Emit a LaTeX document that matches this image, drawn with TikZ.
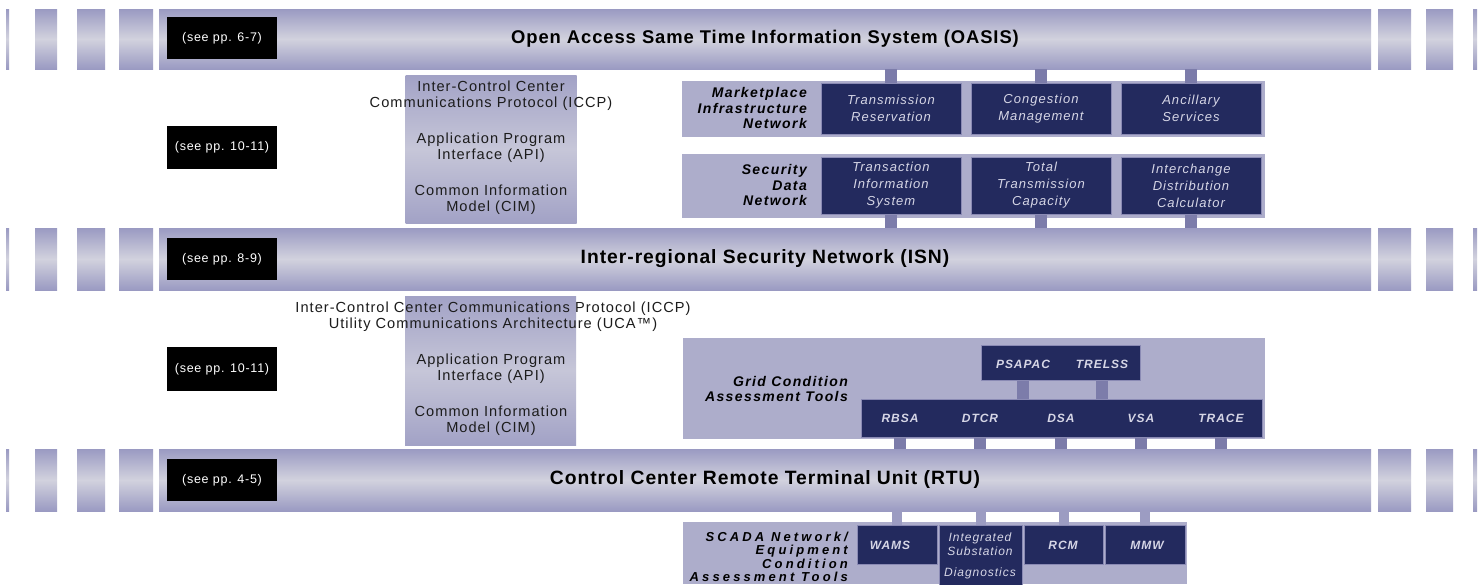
\documentclass[tikz,border=0pt]{standalone}
\usepackage{fontspec}
\setmainfont{Liberation Sans}
\newfontfamily\ttlf[LetterSpace=5]{Liberation Sans}
\newfontfamily\boxf[LetterSpace=8]{Liberation Sans}
\newfontfamily\lblf[LetterSpace=10]{Liberation Sans}
\newfontfamily\scadaf[LetterSpace=24]{Liberation Sans}
\newfontfamily\colf[LetterSpace=7]{Liberation Sans}
\newfontfamily\seef[LetterSpace=6]{Liberation Sans}
\newfontfamily\acrf[LetterSpace=8]{Liberation Sans}
\definecolor{barDark}{HTML}{9A9AC2}
\definecolor{barLight}{HTML}{D2D2DE}
\definecolor{colDark}{HTML}{A2A2C6}
\definecolor{colLight}{HTML}{C6C6D8}
\definecolor{contGrey}{HTML}{ADADCB}
\definecolor{navy}{HTML}{232A5E}
\definecolor{navyEdge}{HTML}{8A8AB4}
\definecolor{stubc}{HTML}{7C7CAA}
\definecolor{stubl}{HTML}{9C9CC2}
\definecolor{boxtext}{HTML}{D6D6E6}
\definecolor{txt}{HTML}{1C1C1C}
\begin{document}
\begin{tikzpicture}[x=1pt,y=-1pt,
  barseg/.style={top color=barDark, bottom color=barDark, middle color=barLight, draw=none},
  bar/.style={barseg, rectangle, inner sep=0, minimum width=1212, font=\ttlf\bfseries\fontsize{19.3}{21}\selectfont, text=black},
  see/.style={fill=black, text=white, minimum width=110, minimum height=42, inner sep=0, font=\seef\fontsize{12.5}{14}\selectfont},
  colbox/.style={top color=colDark, bottom color=colDark, middle color=colLight, inner sep=0, minimum width=171},
  coltext/.style={align=center, inner sep=0, text=txt, font=\colf\fontsize{14.6}{16}\selectfont},
  cont/.style={fill=contGrey, inner sep=0},
  navybox/.style={fill=navy, draw=navyEdge, line width=1, inner sep=0, text=boxtext, align=center, font=\boxf\itshape\fontsize{13}{17}\selectfont},
  acr/.style={inner sep=0, text=boxtext, font=\acrf\bfseries\itshape\fontsize{12}{14}\selectfont},
  lbl/.style={anchor=east, align=right, inner sep=0, text=black, font=\lblf\bfseries\itshape\fontsize{14}{15.5}\selectfont},
  stub/.style={draw=stubc, line width=12},
  stubs/.style={draw=stubl, line width=10}]
\useasboundingbox (0,0) rectangle (1483,584);
\fill[white] (0,0) rectangle (1483,584);

% side segments of the three bars
\foreach \ya/\yb in {9/69, 228/290, 449/511}{
  \foreach \xa/\xb in {6/9, 35/57, 77/105, 119/153, 1378/1411, 1426/1453, 1473/1477}{
    \path[barseg] (\xa,\ya) rectangle (\xb,\yb);
  }
}
% main bars
\node[bar, minimum height=60, font=\ttlf\bfseries\fontsize{18.4}{20}\selectfont] (oasis) at (765,39) {Open Access Same Time Information System (OASIS)};
\node[bar, minimum height=62] (isn) at (765,259) {Inter-regional Security Network (ISN)};
\node[bar, minimum height=62] (rtu) at (765,480) {Control Center Remote Terminal Unit (RTU)};

% page references
\node[see] (see67) at (222,38) {(see pp. 6-7)};
\node[see, minimum height=43] (see1011a) at (222,147.5) {(see pp. 10-11)};
\node[see] (see89) at (222,259) {(see pp. 8-9)};
\node[see, minimum height=44] (see1011b) at (222,369) {(see pp. 10-11)};
\node[see] (see45) at (222,480) {(see pp. 4-5)};

% protocol columns
\node[colbox, minimum height=148] (col1) at (491,149) {};
\node[colbox, minimum height=149] (col2) at (490.5,370.5) {};
\node[coltext] (iccp1) at (491,96) {Inter-Control Center\\Communications Protocol (ICCP)};
\node[coltext] (api1) at (491,148) {Application Program\\Interface (API)};
\node[coltext] (cim1) at (491,200) {Common Information\\Model (CIM)};
\node[coltext] (iccp2) at (493,317) {Inter-Control Center Communications Protocol (ICCP)\\Utility Communications Architecture (UCA™)};
\node[coltext] (api2) at (491,369) {Application Program\\Interface (API)};
\node[coltext] (cim2) at (491,421) {Common Information\\Model (CIM)};

% Marketplace Infrastructure Network
\node[cont, minimum width=583, minimum height=56] (mkt) at (973.5,109) {};
\node[lbl] (mktlbl) at (807,108) {Marketplace\\Infrastructure\\Network};
\node[navybox, minimum width=140, minimum height=51] (tres) at (891,108.5) {Transmission\\Reservation};
\node[navybox, minimum width=140, minimum height=51] (cong) at (1041,108.5) {Congestion\\Management};
\node[navybox, minimum width=140, minimum height=51] (anc) at (1191,108.5) {Ancillary\\Services};

% Security Data Network
\node[cont, minimum width=583, minimum height=64] (sec) at (973.5,186) {};
\node[lbl] (seclbl) at (807,185) {Security\\Data\\Network};
\node[navybox, minimum width=140, minimum height=57] (tis) at (891,185.5) {Transaction\\Information\\System};
\node[navybox, minimum width=140, minimum height=57] (ttc) at (1041,185.5) {Total\\Transmission\\Capacity};
\node[navybox, minimum width=140, minimum height=57] (idc) at (1191,185.5) {Interchange\\Distribution\\Calculator};

\draw[stub] (tres.north) -- (tres.north |- oasis.south);
\draw[stub] (cong.north) -- (cong.north |- oasis.south);
\draw[stub] (anc.north) -- (anc.north |- oasis.south);
\draw[stub] (tis.south) -- (tis.south |- isn.north);
\draw[stub] (ttc.south) -- (ttc.south |- isn.north);
\draw[stub] (idc.south) -- (idc.south |- isn.north);

% Grid Condition Assessment Tools
\node[cont, minimum width=582, minimum height=101] (grid) at (974,388.5) {};
\node[lbl] (gridlbl) at (848,389) {Grid Condition\\Assessment Tools};
\node[navybox, minimum width=401, minimum height=38] (gbar) at (1061.5,418) {};
\node[navybox, minimum width=159, minimum height=35] (pbox) at (1060.5,362.5) {};
\node[acr] (psapac) at (1023,364) {PSAPAC};
\node[acr] (trelss) at (1102,364) {TRELSS};
\node[acr] (rbsa) at (900,418) {RBSA};
\node[acr] (dtcr) at (980,418) {DTCR};
\node[acr] (dsa) at (1061,418) {DSA};
\node[acr] (vsa) at (1141,418) {VSA};
\node[acr] (trace) at (1221,418) {TRACE};
\draw[stub] (psapac |- pbox.south) -- (psapac |- gbar.north);
\draw[stub] (trelss |- pbox.south) -- (trelss |- gbar.north);
\foreach \n in {rbsa,dtcr,dsa,vsa,trace}{
  \draw[stub] (\n |- gbar.south) -- (\n |- rtu.north);
}

% SCADA Network / Equipment Condition Assessment Tools
\node[cont, minimum width=504, minimum height=62] (scada) at (935,553) {};
\node[lbl, font=\scadaf\bfseries\itshape\fontsize{13}{13.4}\selectfont] (scadalbl) at (848,557) {SCADA Network/\\Equipment\\Condition\\Assessment Tools};
\node[navybox, minimum width=80, minimum height=39] (wams) at (897,544.5) {};
\node[navybox, minimum width=83, minimum height=60] (integ) at (980.5,555) {};
\node[navybox, minimum width=79, minimum height=39] (rcm) at (1063.5,544.5) {};
\node[navybox, minimum width=80, minimum height=39] (mmw) at (1145,544.5) {};
\node[acr] (wamst) at (890,545) {WAMS};
\node[acr] (rcmt) at (1063,545) {RCM};
\node[acr] (mmwt) at (1147,545) {MMW};
\node[navybox, draw=none, fill=none, font=\boxf\itshape\fontsize{12}{13.5}\selectfont] (integt) at (980,544) {Integrated\\Substation};
\node[navybox, draw=none, fill=none, font=\boxf\itshape\fontsize{12}{13.5}\selectfont] (diag) at (980,573) {Diagnostics};
\draw[stubs] (wams.north) -- (wams.north |- rtu.south);
\draw[stubs] (integ.north) -- (integ.north |- rtu.south);
\draw[stubs] (rcm.north) -- (rcm.north |- rtu.south);
\draw[stubs] (mmw.north) -- (mmw.north |- rtu.south);
\end{tikzpicture}
\end{document}
